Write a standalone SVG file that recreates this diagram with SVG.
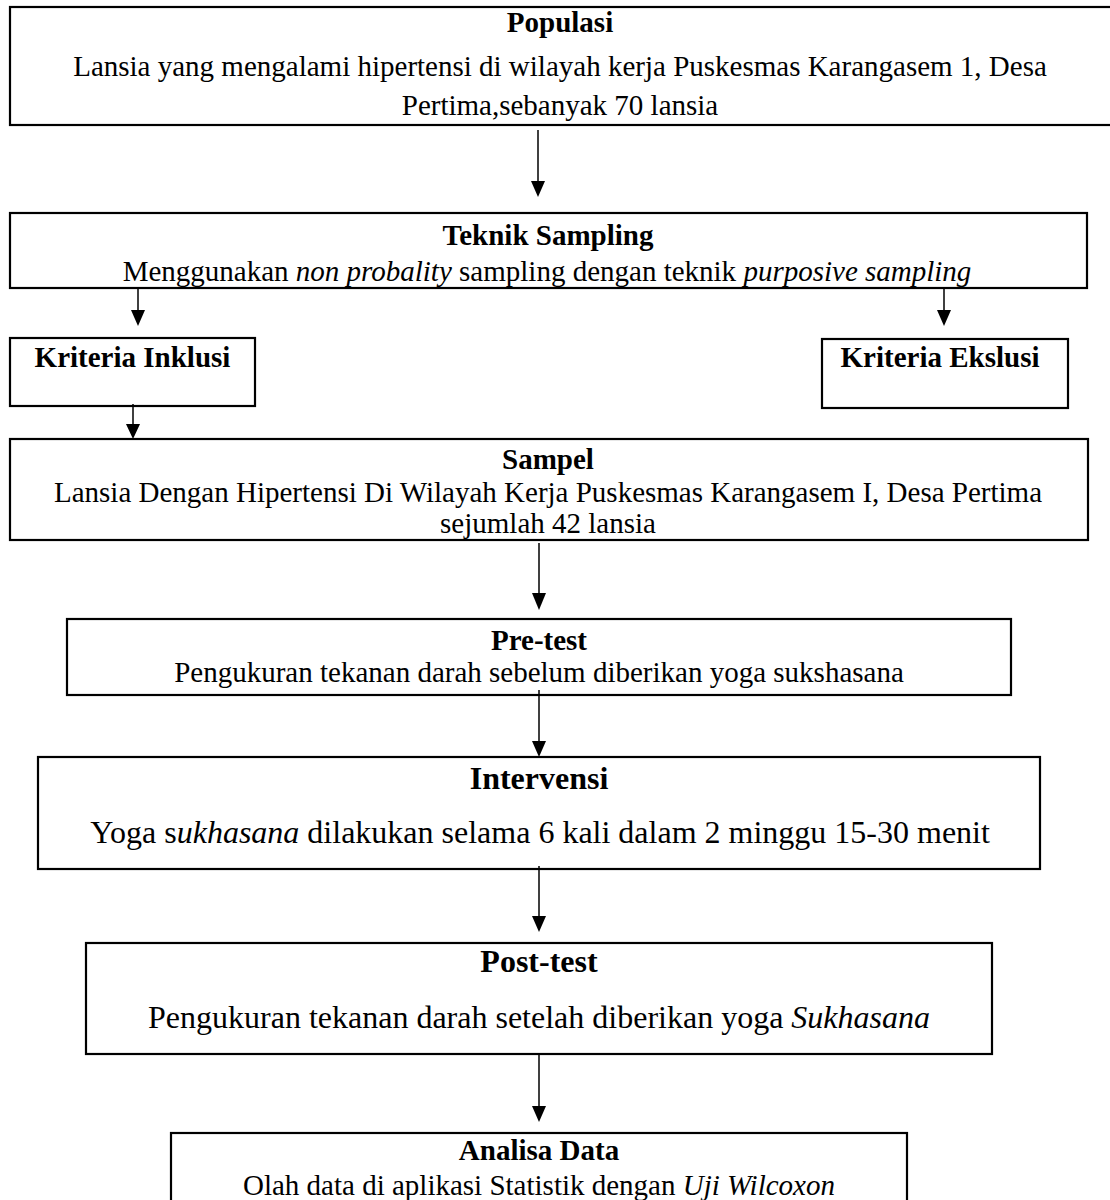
<svg xmlns="http://www.w3.org/2000/svg" width="1110" height="1200" viewBox="0 0 1110 1200">
<style>
.box{fill:#fff;stroke:#000;stroke-width:2.2}
text{font-family:"Liberation Serif","Times New Roman",serif;fill:#000;text-anchor:middle}
.t{font-size:29px}
.b{font-weight:bold}
.L{font-size:32px}
.i{font-style:italic}
.ln{stroke:#000;stroke-width:1.5;fill:none}
.ah{fill:#000;stroke:none}
</style>
<rect width="1110" height="1200" fill="#fff"/>
<g id="populasi">
<rect class="box" x="10" y="7" width="1104" height="118"/>
<text class="t b" x="560" y="32">Populasi</text>
<text class="t" x="560" y="76">Lansia yang mengalami hipertensi di wilayah kerja Puskesmas Karangasem 1, Desa</text>
<text class="t" x="560" y="115">Pertima,sebanyak 70 lansia</text>
</g>
<g id="teknik-sampling">
<rect class="box" x="10" y="213" width="1077" height="75"/>
<text class="t b" x="548" y="245">Teknik Sampling</text>
<text class="t" x="547" y="281">Menggunakan <tspan class="i">non probality</tspan> sampling dengan teknik <tspan class="i">purposive sampling</tspan></text>
</g>
<g id="kriteria-inklusi">
<rect class="box" x="10" y="338" width="245" height="68"/>
<text class="t b" x="132.5" y="367">Kriteria Inklusi</text>
</g>
<g id="kriteria-ekslusi">
<rect class="box" x="822" y="339" width="246" height="69"/>
<text class="t b" x="940" y="367">Kriteria Ekslusi</text>
</g>
<g id="sampel">
<rect class="box" x="10" y="439" width="1078" height="101"/>
<text class="t b" x="548" y="469">Sampel</text>
<text class="t" x="548" y="502">Lansia Dengan Hipertensi Di Wilayah Kerja Puskesmas Karangasem I, Desa Pertima</text>
<text class="t" x="548" y="533">sejumlah 42 lansia</text>
</g>
<g id="pre-test">
<rect class="box" x="67" y="619" width="944" height="76"/>
<text class="t b" x="539" y="650">Pre-test</text>
<text class="t" x="539" y="682">Pengukuran tekanan darah sebelum diberikan yoga sukshasana</text>
</g>
<g id="intervensi">
<rect class="box" x="38" y="757" width="1002" height="112"/>
<text class="L b" x="539" y="789">Intervensi</text>
<text class="L" x="540" y="843">Yoga s<tspan class="i">ukhasana</tspan> dilakukan selama 6 kali dalam 2 minggu 15-30 menit</text>
</g>
<g id="post-test">
<rect class="box" x="86" y="943" width="906" height="111"/>
<text class="L b" x="539" y="972">Post-test</text>
<text class="L" x="539" y="1028">Pengukuran tekanan darah setelah diberikan yoga <tspan class="i">Sukhasana</tspan></text>
</g>
<g id="analisa-data">
<rect class="box" x="171" y="1133" width="736" height="80"/>
<text class="t b" x="539" y="1160">Analisa Data</text>
<text class="t" x="539" y="1195">Olah data di aplikasi Statistik dengan <tspan class="i">Uji Wilcoxon</tspan></text>
</g>
<g id="connectors">
<line class="ln" x1="538" y1="130" x2="538" y2="183"/>
<polygon class="ah" points="531,181 545,181 538,197"/>
<line class="ln" x1="138" y1="288" x2="138" y2="312"/>
<polygon class="ah" points="131,310 145,310 138,326"/>
<line class="ln" x1="944" y1="288" x2="944" y2="312"/>
<polygon class="ah" points="937,310 951,310 944,326"/>
<line class="ln" x1="133" y1="404" x2="133" y2="426"/>
<polygon class="ah" points="126,424 140,424 133,439"/>
<line class="ln" x1="539" y1="543" x2="539" y2="595"/>
<polygon class="ah" points="532,593 546,593 539,610"/>
<line class="ln" x1="539" y1="690" x2="539" y2="744"/>
<polygon class="ah" points="532,741 546,741 539,757"/>
<line class="ln" x1="539" y1="866" x2="539" y2="918"/>
<polygon class="ah" points="532,916 546,916 539,932"/>
<line class="ln" x1="539" y1="1054" x2="539" y2="1108"/>
<polygon class="ah" points="532,1106 546,1106 539,1122"/>
</g>
</svg>
